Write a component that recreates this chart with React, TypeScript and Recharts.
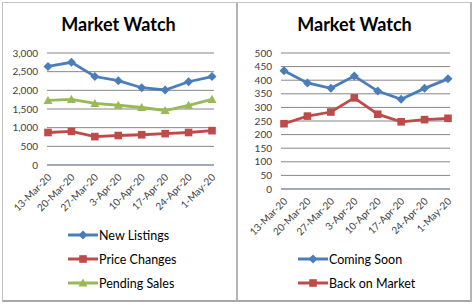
import React from "react";
import { LineChart, Line, XAxis, YAxis, CartesianGrid } from "recharts";

const weeks = [
  "13-Mar-20",
  "20-Mar-20",
  "27-Mar-20",
  "3-Apr-20",
  "10-Apr-20",
  "17-Apr-20",
  "24-Apr-20",
  "1-May-20",
];

const newListings = [2640, 2750, 2370, 2260, 2070, 2010, 2230, 2370];
const priceChanges = [870, 900, 760, 790, 810, 840, 870, 920];
const pendingSales = [1730, 1760, 1650, 1600, 1540, 1460, 1600, 1760];

const comingSoon = [435, 390, 370, 415, 360, 330, 370, 405];
const backOnMarket = [240, 268, 283, 335, 275, 247, 255, 260];

const leftTicks = [0, 500, 1000, 1500, 2000, 2500, 3000];
const rightTicks = [0, 50, 100, 150, 200, 250, 300, 350, 400, 450, 500];

const FONT = "Lato, 'Open Sans', sans-serif";
const INK = "#404040";
const BLUE = "#4a7ebb";
const RED = "#be4b48";
const GREEN = "#98b954";

type Marker = "diamond" | "square" | "triangle";

type Series = { key: string; name: string; color: string; marker: Marker };

const leftSeries: Series[] = [
  { key: "newListings", name: "New Listings", color: BLUE, marker: "diamond" },
  { key: "priceChanges", name: "Price Changes", color: RED, marker: "square" },
  { key: "pendingSales", name: "Pending Sales", color: GREEN, marker: "triangle" },
];

const rightSeries: Series[] = [
  { key: "comingSoon", name: "Coming Soon", color: BLUE, marker: "diamond" },
  { key: "backOnMarket", name: "Back on Market", color: RED, marker: "square" },
];

const leftData = weeks.map((week, i) => ({
  week,
  newListings: newListings[i],
  priceChanges: priceChanges[i],
  pendingSales: pendingSales[i],
}));

const rightData = weeks.map((week, i) => ({
  week,
  comingSoon: comingSoon[i],
  backOnMarket: backOnMarket[i],
}));

function markerShape(marker: Marker, cx: number, cy: number, color: string, key?: string) {
  if (marker === "diamond") {
    const r = 4.5;
    return (
      <path
        key={key}
        d={`M${cx},${cy - r}L${cx + r},${cy}L${cx},${cy + r}L${cx - r},${cy}Z`}
        fill={color}
      />
    );
  }
  if (marker === "square") {
    const r = 3.8;
    return <rect key={key} x={cx - r} y={cy - r} width={r * 2} height={r * 2} fill={color} />;
  }
  const r = 4.5;
  return (
    <path
      key={key}
      d={`M${cx},${cy - r}L${cx + r},${cy + r * 0.8}L${cx - r},${cy + r * 0.8}Z`}
      fill={color}
    />
  );
}

function makeDot(s: Series) {
  return (props: any) => {
    const { cx, cy, index } = props;
    if (cx == null || cy == null) return <g key={`${s.key}-${index}`} />;
    return markerShape(s.marker, cx, cy, s.color, `${s.key}-${index}`);
  };
}

function DateTick(props: any) {
  const { x, y, payload } = props;
  const px = x + 4;
  const py = y + 13;
  return (
    <text
      x={px}
      y={py}
      transform={`rotate(-45 ${px} ${py})`}
      textAnchor="end"
      fontSize={10}
      fontFamily={FONT}
      fill={INK}
    >
      {payload.value}
    </text>
  );
}

function Legend({ items, left, rows }: { items: Series[]; left: number; rows: number[] }) {
  return (
    <>
      {items.map((s, i) => (
        <div
          key={s.key}
          style={{
            position: "absolute",
            left,
            top: rows[i] - 9,
            height: 18,
            display: "flex",
            alignItems: "center",
            fontFamily: FONT,
            fontSize: 12.5,
            color: "#000",
            whiteSpace: "nowrap",
          }}
        >
          <svg width={30} height={18} style={{ display: "block" }}>
            <line x1={0} y1={9} x2={30} y2={9} stroke={s.color} strokeWidth={3} />
            {markerShape(s.marker, 15, 9, s.color)}
          </svg>
          <span style={{ marginLeft: 1 }}>{s.name}</span>
        </div>
      ))}
    </>
  );
}

function Title({ center }: { center: number }) {
  return (
    <div
      style={{
        position: "absolute",
        left: center - 80,
        width: 160,
        top: 13,
        textAlign: "center",
        fontFamily: FONT,
        fontWeight: 700,
        fontSize: 18,
        color: "#000",
      }}
    >
      Market Watch
    </div>
  );
}

type PanelProps = {
  left: number;
  data: any[];
  series: Series[];
  ticks: number[];
  yMax: number;
  yWidth: number;
  marginLeft: number;
  marginRight: number;
  xHeight: number;
  pad: { left: number; right: number };
};

function Panel({ left, data, series, ticks, yMax, yWidth, marginLeft, marginRight, xHeight, pad }: PanelProps) {
  return (
    <div style={{ position: "absolute", left, top: 0 }}>
      <LineChart
        width={237}
        height={305}
        data={data}
        margin={{ top: 53, right: marginRight, bottom: 0, left: marginLeft }}
      >
        <CartesianGrid stroke="#868686" vertical={false} />
        <XAxis
          dataKey="week"
          interval={0}
          height={xHeight}
          padding={pad}
          tick={<DateTick />}
          tickLine={false}
          tickSize={0}
          tickMargin={0}
          axisLine={{ stroke: "#7b93b5", strokeWidth: 1 }}
        />
        <YAxis
          domain={[0, yMax]}
          ticks={ticks}
          width={yWidth}
          interval={0}
          tickLine={false}
          axisLine={false}
          tickMargin={3}
          tickFormatter={(v: number) => v.toLocaleString("en-US")}
          tick={{ fill: INK, fontSize: 10, fontFamily: FONT }}
        />
        {series.map((s) => (
          <Line
            key={s.key}
            dataKey={s.key}
            name={s.name}
            stroke={s.color}
            strokeWidth={2.8}
            dot={makeDot(s)}
            activeDot={false}
            type="linear"
            isAnimationActive={false}
          />
        ))}
      </LineChart>
    </div>
  );
}

export default function App() {
  return (
    <div
      style={{
        position: "absolute",
        left: 0,
        top: 0,
        width: 475,
        height: 305,
        background: "#fff",
        overflow: "hidden",
      }}
    >
      {/* panel frames */}
      <div
        style={{
          position: "absolute",
          left: 2,
          top: 2,
          width: 233,
          height: 297,
          borderLeft: "1px solid #c4c4c4",
          borderTop: "1px solid #c4c4c4",
          borderRight: "2px solid #b4b4b4",
          borderBottom: "2px solid #a8a8a8",
        }}
      />
      <div
        style={{
          position: "absolute",
          left: 237,
          top: 2,
          width: 233,
          height: 297,
          borderTop: "1px solid #c4c4c4",
          borderRight: "2px solid #b4b4b4",
          borderBottom: "2px solid #a8a8a8",
        }}
      />

      <Panel
        left={0}
        data={leftData}
        series={leftSeries}
        ticks={leftTicks}
        yMax={3000}
        yWidth={40}
        marginLeft={7}
        marginRight={23}
        xHeight={140}
        pad={{ left: 1, right: 2 }}
      />
      <Panel
        left={237}
        data={rightData}
        series={rightSeries}
        ticks={rightTicks}
        yMax={500}
        yWidth={36}
        marginLeft={8}
        marginRight={24}
        xHeight={116}
        pad={{ left: 3, right: 2 }}
      />

      <Title center={118.5} />
      <Title center={354.5} />

      <Legend items={leftSeries} left={68} rows={[235, 259, 283]} />
      <Legend items={rightSeries} left={298} rows={[259, 283]} />
    </div>
  );
}
